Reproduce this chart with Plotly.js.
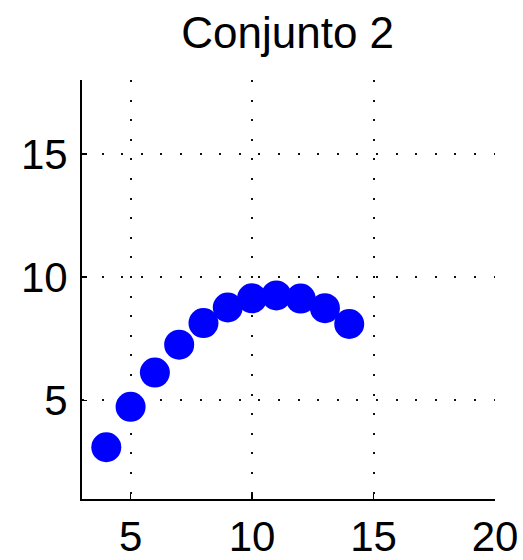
<!DOCTYPE html>
<html>
<head>
<meta charset="utf-8">
<script src="https://cdn.plot.ly/plotly-3.0.1.min.js"></script>
<style>html,body{margin:0;padding:0;background:#fff;}#chart{width:523px;height:560px;}</style>
</head>
<body>
<div id="chart"></div>
<script>
const xValues = [4, 5, 6, 7, 8, 9, 10, 11, 12, 13, 14];
const yValues = [3.10, 4.74, 6.13, 7.26, 8.14, 8.77, 9.14, 9.26, 9.13, 8.74, 8.10];
const xTicks = [5, 10, 15, 20];
const yTicks = [5, 10, 15];
const chartTitle = 'Conjunto 2';

const font = 'Liberation Sans, Arial, sans-serif';
const axisCommon = {
  showline: true, linecolor: '#000', linewidth: 2, mirror: false,
  ticks: 'inside', ticklen: 5, tickwidth: 1.5, tickcolor: '#000',
  showgrid: true, gridcolor: '#111', gridwidth: 2, griddash: '2px,17.6px',
  zeroline: false, tickfont: {family: font, size: 42, color: '#000'}
};
Plotly.newPlot('chart', [{
  x: xValues, y: yValues, type: 'scatter', mode: 'markers',
  marker: {color: '#0000ff', size: 30, line: {width: 0}},
  hoverinfo: 'none'
}], {
  width: 523, height: 560,
  margin: {l: 82, r: 28, t: 80, b: 61},
  paper_bgcolor: '#fff', plot_bgcolor: '#fff',
  showlegend: false,
  title: {text: chartTitle, font: {family: font, size: 44, color: '#000'}, x: 0.55, xanchor: 'center', y: 0.915, yanchor: 'bottom'},
  xaxis: Object.assign({}, axisCommon, {range: [3, 20], tickvals: xTicks, ticktext: xTicks.map(String), ticklabelstandoff: 0}),
  yaxis: Object.assign({}, axisCommon, {range: [1, 18], tickvals: yTicks, ticktext: yTicks.map(String), ticklabelstandoff: 4})
}, {staticPlot: true, displayModeBar: false});
</script>
</body>
</html>
